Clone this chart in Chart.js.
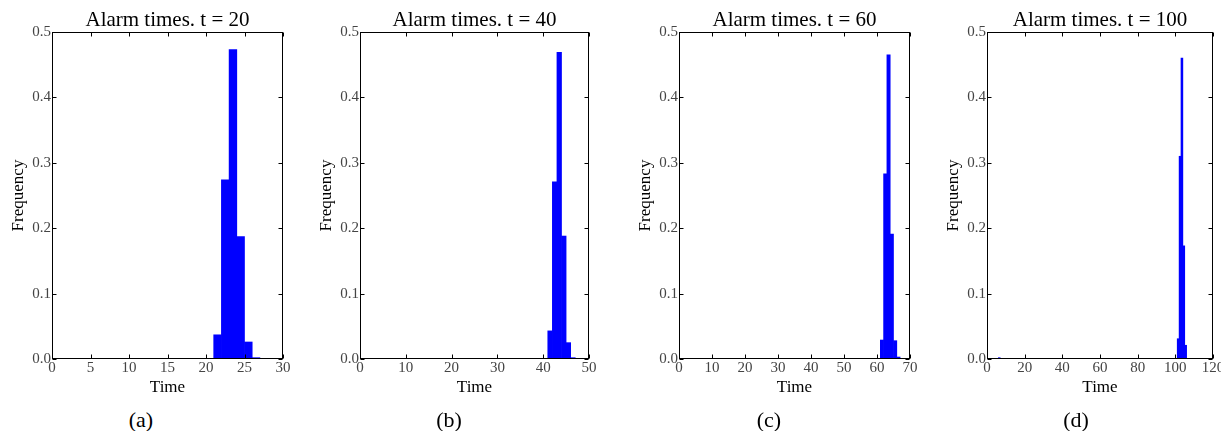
<!DOCTYPE html>
<html>
<head>
<meta charset="utf-8">
<script src="https://cdn.jsdelivr.net/npm/chart.js@4"></script>
<style>
 body{margin:0;width:1221px;height:431px;overflow:hidden;background:#fff;position:relative;font-family:"Liberation Serif",serif;}
 canvas{position:absolute;top:0;}
 .caption{position:absolute;top:408px;width:60px;margin-left:-30px;text-align:center;font-size:22px;line-height:24px;color:#000;}
</style>
</head>
<body>
<script>
// data: histogram bins (left edge of each unit bin) and frequencies
var bins_a=[21,22,23,24,25,26];
var freq_a=[0.037,0.274,0.473,0.187,0.026,0.002];
var bins_b=[41,42,43,44,45,46];
var freq_b=[0.043,0.271,0.469,0.188,0.025,0.002];
var bins_c=[61,62,63,64,65,66];
var freq_c=[0.029,0.283,0.465,0.191,0.028,0.003];
var bins_d=[6,101,102,103,104,105];
var freq_d=[0.002,0.031,0.310,0.460,0.173,0.021];
// titles, captions and axis ranges
var titles=["Alarm times. t = 20","Alarm times. t = 40","Alarm times. t = 60","Alarm times. t = 100"];
var captions=["(a)","(b)","(c)","(d)"];
var x_max=[30,50,70,120];
var x_step=[5,10,10,20];
var y_max=0.5;
var y_step=0.1;
var x_label="Time";
var y_label="Frequency";

// layout (canvas is symmetric round the plot so the title centres on it)
var SERIF="'Liberation Serif', serif";
var CANVAS_H=400, PLOT_BOTTOM=359, Y_AXIS_W=52, TICK=4;
var plot_left=[52,360,679,987];
var plot_right=[283,589,910,1213];
var caption_x=[141,449,769,1076];

// frame with inward ticks on all four sides
var framePlugin={
 id:'frame',
 afterDraw:function(chart){
  var ctx=chart.ctx, a=chart.chartArea, x=chart.scales.x, y=chart.scales.y;
  var l=Math.round(a.left)+0.5, r=Math.round(a.right)-0.5, t=Math.round(a.top)+0.5, b=Math.round(a.bottom)-0.5;
  ctx.save();
  ctx.strokeStyle='#000';
  ctx.lineWidth=1;
  ctx.strokeRect(l,t,r-l,b-t);
  ctx.beginPath();
  x.ticks.forEach(function(tk){
   var px=Math.round(x.getPixelForValue(tk.value))+0.5;
   ctx.moveTo(px,b);ctx.lineTo(px,b-TICK);
   ctx.moveTo(px,t);ctx.lineTo(px,t+TICK);
  });
  y.ticks.forEach(function(tk){
   var py=Math.round(y.getPixelForValue(tk.value))+0.5;
   ctx.moveTo(l,py);ctx.lineTo(l+TICK,py);
   ctx.moveTo(r,py);ctx.lineTo(r-TICK,py);
  });
  ctx.stroke();
  ctx.restore();
 }
};

function panel(i,bins,freq){
 // canvas
 var canvas=document.createElement('canvas');
 var w=plot_right[i]-plot_left[i]+2*Y_AXIS_W;
 canvas.width=w; canvas.height=CANVAS_H;
 canvas.style.left=(plot_left[i]-Y_AXIS_W)+'px';
 canvas.style.width=w+'px'; canvas.style.height=CANVAS_H+'px';
 document.body.appendChild(canvas);
 // caption
 var cap=document.createElement('div');
 cap.className='caption';
 cap.style.left=caption_x[i]+'px';
 cap.textContent=captions[i];
 document.body.appendChild(cap);
 // points at bin centres
 var points=bins.map(function(b,k){return {x:b+0.5,y:freq[k]};});
 new Chart(canvas.getContext('2d'),{
  type:'bar',
  data:{datasets:[{data:points,backgroundColor:'#0000ff',borderWidth:0,barPercentage:1,categoryPercentage:1}]},
  plugins:[framePlugin],
  options:{
   responsive:false,
   animation:false,
   layout:{padding:0},
   plugins:{
    legend:{display:false},
    tooltip:{enabled:false},
    title:{display:true,text:titles[i],color:'#000',font:{family:SERIF,size:21,weight:'normal',lineHeight:1},padding:{top:10.4,bottom:0.6}}
   },
   scales:{
    x:{
     type:'linear',min:0,max:x_max[i],offset:false,
     grid:{display:false,drawTicks:false},border:{display:false},
     ticks:{stepSize:x_step[i],padding:0,color:'#444',maxRotation:0,autoSkip:false,font:{family:SERIF,size:15}},
     title:{display:true,text:x_label,color:'#000',font:{family:SERIF,size:17},padding:{top:0,bottom:2}},
     afterFit:function(s){s.paddingLeft=0;s.paddingRight=0;s.height=CANVAS_H-PLOT_BOTTOM;}
    },
    y:{
     min:0,max:y_max,
     grid:{display:false,drawTicks:false},border:{display:false},
     ticks:{stepSize:y_step,padding:1,color:'#444',font:{family:SERIF,size:15},callback:function(v){return v.toFixed(1);}},
     title:{display:true,text:y_label,color:'#000',font:{family:SERIF,size:17},padding:{top:8,bottom:0}},
     afterFit:function(s){s.width=Y_AXIS_W;s.paddingTop=0;s.paddingBottom=0;}
    },
    // empty right axis, keeps the plot centred in the canvas
    y2:{
     position:'right',min:0,max:y_max,
     grid:{display:false,drawTicks:false},border:{display:false},
     ticks:{display:false},
     afterFit:function(s){s.width=Y_AXIS_W;s.paddingTop=0;s.paddingBottom=0;}
    }
   }
  }
 });
}

panel(0,bins_a,freq_a);
panel(1,bins_b,freq_b);
panel(2,bins_c,freq_c);
panel(3,bins_d,freq_d);
</script>
</body>
</html>
